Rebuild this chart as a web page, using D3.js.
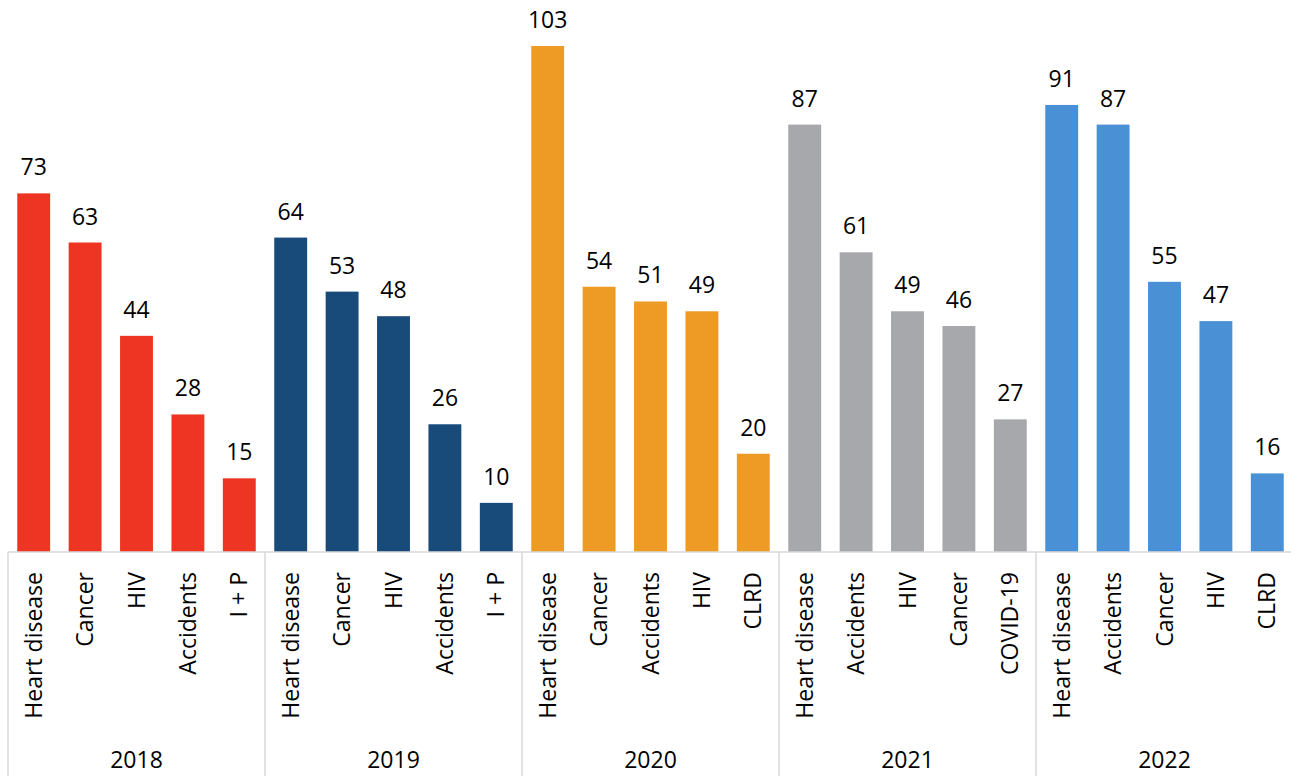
<!DOCTYPE html>
<html><head><meta charset="utf-8">
<script src="https://cdn.jsdelivr.net/npm/d3@7"></script>
<style>body{margin:0;background:#fff}svg{display:block}text{font-family:"Open Sans",sans-serif;fill:#000}</style>
</head><body>
<svg id="c" width="1291" height="776"></svg>
<script>
const years = ["2018","2019","2020","2021","2022"];
const colors = ["#EE3524","#184A7A","#EE9B26","#A7A8AC","#4A90D4"];
const cat2018 = ["Heart disease","Cancer","HIV","Accidents","I + P"];
const val2018 = [73,63,44,28,15];
const cat2019 = ["Heart disease","Cancer","HIV","Accidents","I + P"];
const val2019 = [64,53,48,26,10];
const cat2020 = ["Heart disease","Cancer","Accidents","HIV","CLRD"];
const val2020 = [103,54,51,49,20];
const cat2021 = ["Heart disease","Accidents","HIV","Cancer","COVID-19"];
const val2021 = [87,61,49,46,27];
const cat2022 = ["Heart disease","Accidents","Cancer","HIV","CLRD"];
const val2022 = [91,87,55,47,16];

const cats = [cat2018,cat2019,cat2020,cat2021,cat2022];
const vals = [val2018,val2019,val2020,val2021,val2022];
const data = [];
years.forEach((y,gi)=>cats[gi].forEach((c,i)=>data.push({id:gi*5+i,year:y,g:gi,cat:c,v:vals[gi][i]})));

const svg = d3.select("#c");
const left = 8, right = 1293, base = 552;
const x = d3.scaleBand().domain(data.map(d=>d.id)).range([left,right]).paddingInner(0.36).paddingOuter(0.18);
const y = d3.scaleLinear().domain([0,103]).range([base,46]);
const gx = d3.scaleBand().domain(years).range([left,right]);

svg.selectAll("rect.bar").data(data).join("rect").attr("class","bar")
  .attr("x",d=>x(d.id)).attr("width",x.bandwidth())
  .attr("y",d=>y(d.v)).attr("height",d=>base-y(d.v))
  .attr("fill",d=>colors[d.g]);

svg.selectAll("text.val").data(data).join("text").attr("class","val")
  .attr("x",d=>x(d.id)+x.bandwidth()/2).attr("y",d=>y(d.v)-18)
  .attr("text-anchor","middle").attr("font-size",23).text(d=>d.v);

// axis lines
svg.append("line").attr("x1",left).attr("x2",right).attr("y1",base).attr("y2",base)
  .attr("stroke","#d9d9d9").attr("stroke-width",1.5);
const seps = years.map(yr=>gx(yr)).concat([right]);
svg.selectAll("line.sep").data(seps).join("line").attr("class","sep")
  .attr("x1",d=>d).attr("x2",d=>d).attr("y1",base).attr("y2",776)
  .attr("stroke","#d9d9d9").attr("stroke-width",1.5);

svg.selectAll("text.cat").data(data).join("text").attr("class","cat")
  .attr("transform",d=>`translate(${x(d.id)+x.bandwidth()/2+8},572) rotate(-90)`)
  .attr("text-anchor","end").attr("font-size",23).text(d=>d.cat);

svg.selectAll("text.yr").data(years).join("text").attr("class","yr")
  .attr("x",d=>gx(d)+gx.bandwidth()/2).attr("y",768)
  .attr("text-anchor","middle").attr("font-size",23).text(d=>d);
</script>
</body></html>
